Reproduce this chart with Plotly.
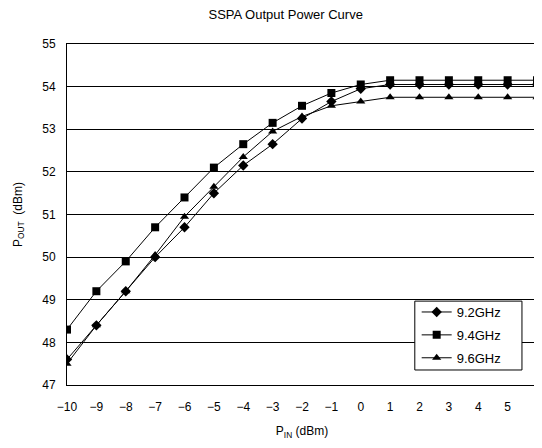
import plotly.graph_objects as go

pin = [-10, -9, -8, -7, -6, -5, -4, -3, -2, -1, 0, 1, 2, 3, 4, 5, 6]
p_92 = [47.6, 48.4, 49.2, 50.0, 50.7, 51.5, 52.15, 52.65, 53.25, 53.65, 53.95, 54.05, 54.05, 54.05, 54.05, 54.05, 54.05]
p_94 = [48.3, 49.2, 49.9, 50.7, 51.4, 52.1, 52.65, 53.15, 53.55, 53.85, 54.05, 54.15, 54.15, 54.15, 54.15, 54.15, 54.15]
p_96 = [47.5, 48.4, 49.2, 50.05, 50.95, 51.65, 52.35, 52.95, 53.3, 53.55, 53.65, 53.75, 53.75, 53.75, 53.75, 53.75, 53.75]
names = ["9.2GHz", "9.4GHz", "9.6GHz"]
symbols = ["diamond", "square", "triangle-up"]

fig = go.Figure()
for name, ys, sym in zip(names, [p_92, p_94, p_96], symbols):
    fig.add_trace(go.Scatter(
        x=pin, y=ys, name=name, mode="lines+markers", legendgroup=name,
        line=dict(color="black", width=1),
        marker=dict(symbol=sym, size=8, color="black"),
    ))

# legend frame drawn as a shape so it can be wider than plotly's own box
fig.add_shape(type="rect", xref="paper", yref="paper",
              x0=0.740, x1=0.968, y0=0.044, y1=0.246,
              line=dict(color="black", width=1), fillcolor="white", layer="above")

# the last tick label sits at the page edge; draw it as text
fig.add_annotation(x=pin[-1], xref="x", y=0, yref="paper", yshift=-22,
                   text=str(pin[-1]), showarrow=False, xanchor="center", yanchor="middle",
                   font=dict(size=12, color="black"))

# page body adds an 8px margin; keep the page from scrolling
fig.update_layout(
    width=534, height=432,
    margin=dict(l=59, r=5, t=36, b=55, autoexpand=False),
    paper_bgcolor="white", plot_bgcolor="white",
    font=dict(family="Liberation Sans, Arial, sans-serif", color="black", size=11),
    title=dict(text="SSPA Output Power Curve", x=0.52, xanchor="center", y=1 - 6 / 432, yanchor="middle",
               font=dict(size=13)),
    showlegend=True,
    legend=dict(x=0.744, y=0.258, xanchor="left", yanchor="top",
                bgcolor="rgba(0,0,0,0)", borderwidth=0,
                font=dict(size=13), itemwidth=30, tracegroupgap=3),
    xaxis=dict(range=[-10, 6], tickmode="array", tickvals=pin[:-1], showgrid=False, zeroline=False,
               showline=True, linecolor="black", linewidth=1, mirror=True,
               ticks="outside", ticklen=11, tickcolor="rgba(0,0,0,0)", automargin=False,
               tickfont=dict(size=12), ticklabeloverflow="allow",
               title=dict(text="P<sub>IN</sub> (dBm)", font=dict(size=12), standoff=19)),
    xaxis2=dict(overlaying="x", matches="x", anchor="y", side="bottom",
                tickmode="array", tickvals=pin, showgrid=False, zeroline=False,
                showline=False, showticklabels=False, automargin=False,
                ticks="inside", ticklen=3, tickcolor="black"),
    yaxis=dict(range=[47, 55], dtick=1, tickmode="linear", showgrid=True, gridcolor="black",
               gridwidth=1, zeroline=False, automargin=False,
               showline=True, linecolor="black", linewidth=1, mirror=True,
               ticks="", tickfont=dict(size=12), ticklabelstandoff=8,
               title=dict(text="P<sub>OUT</sub>  (dBm)", font=dict(size=12), standoff=17)),
)

fig.write_html("out.html")
